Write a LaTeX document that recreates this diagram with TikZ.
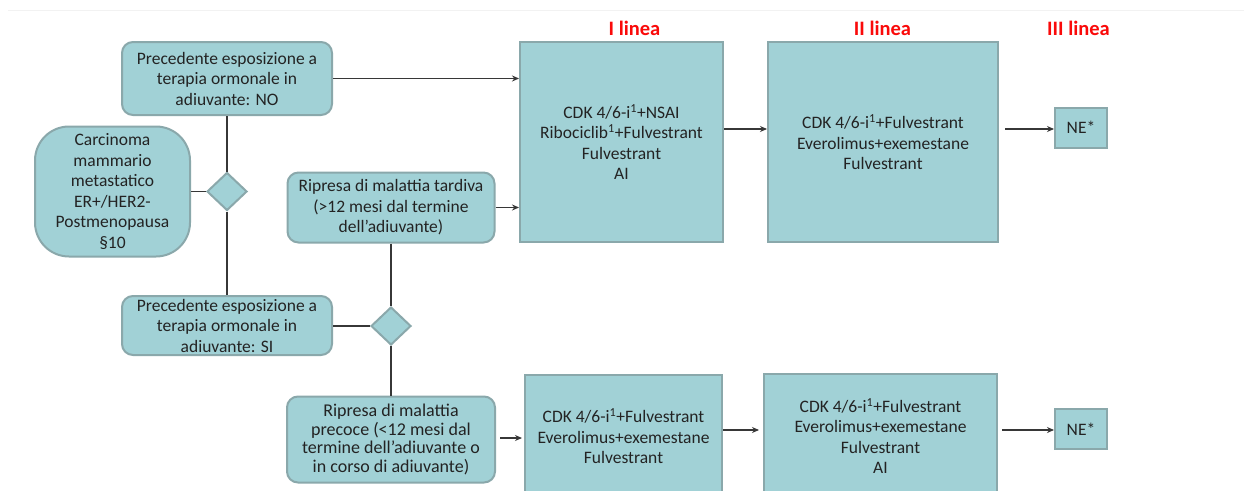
\documentclass[tikz,border=0pt]{standalone}
\usepackage{fontspec}
\setmainfont{Carlito}
\usetikzlibrary{shapes.geometric,arrows.meta}
\definecolor{boxfill}{RGB}{161,209,214}
\definecolor{boxline}{RGB}{138,168,171}
\definecolor{txt}{RGB}{35,35,35}
\definecolor{hdr}{RGB}{250,10,10}
\definecolor{lnk}{RGB}{55,55,55}
\begin{document}
\begin{tikzpicture}[x=1pt,y=-1pt,
  box/.style={draw=boxline, line width=2pt, fill=boxfill, inner sep=0pt, align=center,
    text=txt, font=\fontsize{17.5}{20.5}\selectfont},
  rbox/.style={box, rounded corners=11pt},
  dia/.style={diamond, draw=boxline, line width=2pt, fill=boxfill, inner sep=0pt,
    minimum width=40pt, minimum height=38pt},
  conn/.style={draw=lnk, line width=1.1pt},
  arr/.style={conn, -{Stealth[length=7pt,width=6pt]}},
  hdrtext/.style={text=hdr, font=\bfseries\fontsize{20.5}{24}\selectfont}
]
\useasboundingbox (0,0) rectangle (1244,490);
\clip (0,0) rectangle (1244,490);
\fill[white] (0,0) rectangle (1244,490);
\draw[black!5, line width=0.8pt] (8,10) -- (1244,10);

% headers
\node[hdrtext] (h1) at (634.5,28) {I linea};
\node[hdrtext] (h2) at (882.5,28) {II linea};
\node[hdrtext] (h3) at (1078.5,28) {III linea};

% left column
\node[rbox, minimum width=210pt, minimum height=73pt] (no) at (227,78.5)
  {Precedente esposizione a\\terapia ormonale in\\adiuvante: NO};
\node[box, rounded corners=34pt, minimum width=155pt, minimum height=130pt] (carc) at (112.5,191.5)
  {Carcinoma\\mammario\\metastatico\\ER+/HER2-\\Postmenopausa\\§10};
\node[dia] (d1) at (227,191.5) {};
\node[rbox, minimum width=207pt, minimum height=70pt] (tard) at (391,207.5)
  {Ripresa di malattia tardiva\\(>12 mesi dal termine\\dell’adiuvante)};
\node[rbox, minimum width=210pt, minimum height=59pt] (si) at (227,325.5)
  {Precedente esposizione a\\terapia ormonale in\\adiuvante: SI};
\node[dia] (d2) at (391,326) {};
\node[rbox, minimum width=208pt, minimum height=86pt, font=\fontsize{18}{18.8}\selectfont] (prec) at (391,439.5)
  {Ripresa di malattia\\precoce (<12 mesi dal\\termine dell’adiuvante o\\in corso di adiuvante)};

% treatment boxes
\node[box, minimum width=203pt, minimum height=200pt] (L1) at (621.5,142)
  {CDK 4/6-i\textsuperscript{1}+NSAI\\Ribociclib\textsuperscript{1}+Fulvestrant\\Fulvestrant\\AI};
\node[box, minimum width=230pt, minimum height=200pt] (L2) at (883,142)
  {CDK 4/6-i\textsuperscript{1}+Fulvestrant\\Everolimus+exemestane\\Fulvestrant};
\node[box, minimum width=52pt, minimum height=40pt] (ne1) at (1081,127.5) {NE*};

\node[box, minimum width=197pt, minimum height=122pt] (B3) at (623.5,436)
  {CDK 4/6-i\textsuperscript{1}+Fulvestrant\\Everolimus+exemestane\\Fulvestrant};
\node[box, minimum width=233pt, minimum height=124pt] (B4) at (880.5,436)
  {CDK 4/6-i\textsuperscript{1}+Fulvestrant\\Everolimus+exemestane\\Fulvestrant\\AI};
\node[box, minimum width=52pt, minimum height=40pt] (ne2) at (1081,429) {NE*};

\coordinate (s1) at (1005,129);
\coordinate (s2) at (1002,430);

% connectors
\draw[conn] (no.south) -- (d1.north);
\draw[conn] (d1.south) -- (si.north);
\draw[conn] (carc.east) -- (d1.west);
\draw[conn] (si.east |- d2.west) -- (d2.west);
\draw[conn] (tard.south) -- (d2.north);
\draw[conn] (d2.south) -- (prec.north);

\draw[arr] (no.east) -- (no.east -| L1.west);
\draw[arr] (tard.east) -- (tard.east -| L1.west);
\draw[arr] (L1.east |- s1) -- (L2.west |- s1);
\draw[arr] (s1) -- (s1 -| ne1.west);
\draw[arr] ([xshift=4pt]prec.east |- 0,438) -- ([xshift=-2pt]B3.west |- 0,438);
\draw[arr] (B3.east |- s2) -- ([xshift=-4pt]B4.west |- s2);
\draw[arr] (s2) -- (s2 -| ne2.west);
\end{tikzpicture}
\end{document}
